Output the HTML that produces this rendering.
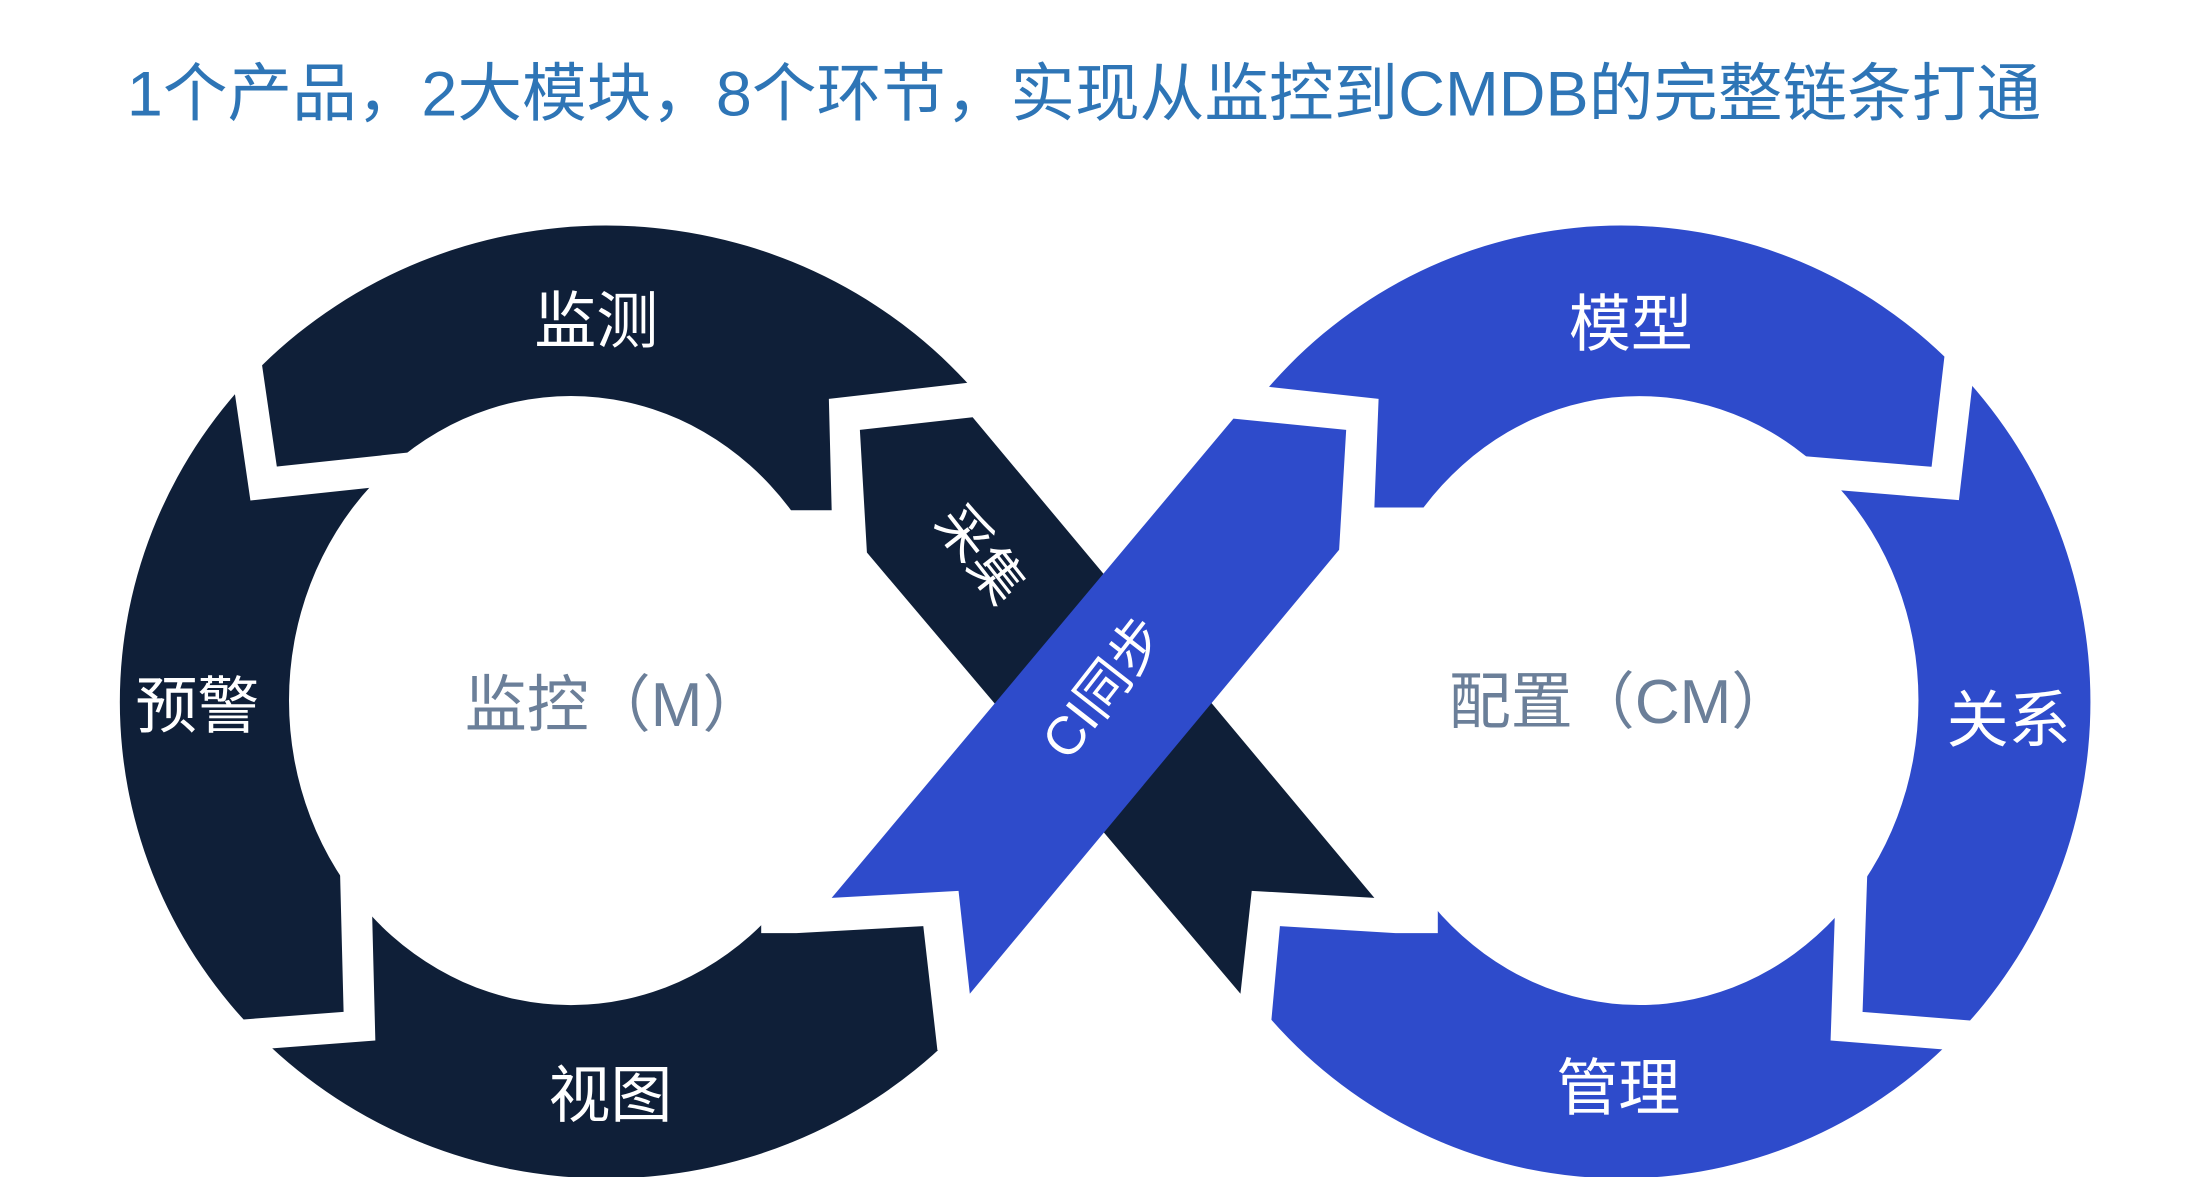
<!DOCTYPE html>
<html><head><meta charset="utf-8"><style>
html,body{margin:0;padding:0;background:#fff;width:2199px;height:1177px;overflow:hidden}
svg{display:block}
text{font-family:"Liberation Sans","Noto Sans CJK SC",sans-serif}
</style></head><body>
<svg width="2199" height="1177" viewBox="0 0 1560 835" xmlns="http://www.w3.org/2000/svg">
<rect width="1560" height="835" fill="#fff"/>
<text x="90" y="82" font-size="45" fill="#2e75b6" textLength="1358" lengthAdjust="spacingAndGlyphs">1个产品，2大模块，8个环节，实现从监控到CMDB的完整链条打通</text>

<path fill="#0f1f38" fill-rule="evenodd" d="M85,498 a345,338 0 1,0 690,0 a345,338 0 1,0 -690,0 Z M205,497 a200,216 0 1,0 400,0 a200,216 0 1,0 -400,0 Z"/>
<path fill="#2e4bcb" fill-rule="evenodd" d="M817,498 a333,338 0 1,0 666,0 a333,338 0 1,0 -666,0 Z M965,497 a198,216 0 1,0 396,0 a198,216 0 1,0 -396,0 Z"/>

<polygon fill="#fff" points="700,270 588,283 590,362 545,362 540,420 540,600 540,662 565,662 655,657 665,745 780,745 780,270"/>
<polygon fill="#fff" points="860,270 978,283 975,360 1030,360 1020,420 1020,600 1020,662 990,662 908,657 900,745 780,745 780,270"/>

<g fill="none" stroke="#fff" stroke-width="22" stroke-linejoin="miter">
<polyline points="172,240 187,343 300,331"/>
<polyline points="252,610 255,728 150,736"/>
<polyline points="1392,240 1380,343 1260,333"/>
<polyline points="1314,610 1310,728 1410,736"/>
</g>

<polygon fill="#0f1f38" points="610,305 690,296 975,637 888,632 880,705 615,392"/>
<polygon fill="#2e4bcb" points="875,297 955,305 950,390 688,705 680,632 590,637"/>

<g fill="#fff" font-size="44" text-anchor="middle">
<text x="423" y="243">监测</text>
<text x="140" y="516">预警</text>
<text x="433" y="792">视图</text>
<text x="1157" y="245">模型</text>
<text x="1425" y="526">关系</text>
<text x="1148" y="787">管理</text>
<text x="0" y="0" font-size="38" transform="translate(693,395) rotate(52)" dominant-baseline="middle">采集</text>
<text x="0" y="0" font-size="38" transform="translate(785,490) rotate(-52)" dominant-baseline="middle">CI同步</text>
</g>
<g fill="#6b7f99" font-size="44" text-anchor="middle">
<text x="436" y="515">监控（M）</text>
<text x="1150" y="513">配置（CM）</text>
</g>
</svg>
</body></html>
